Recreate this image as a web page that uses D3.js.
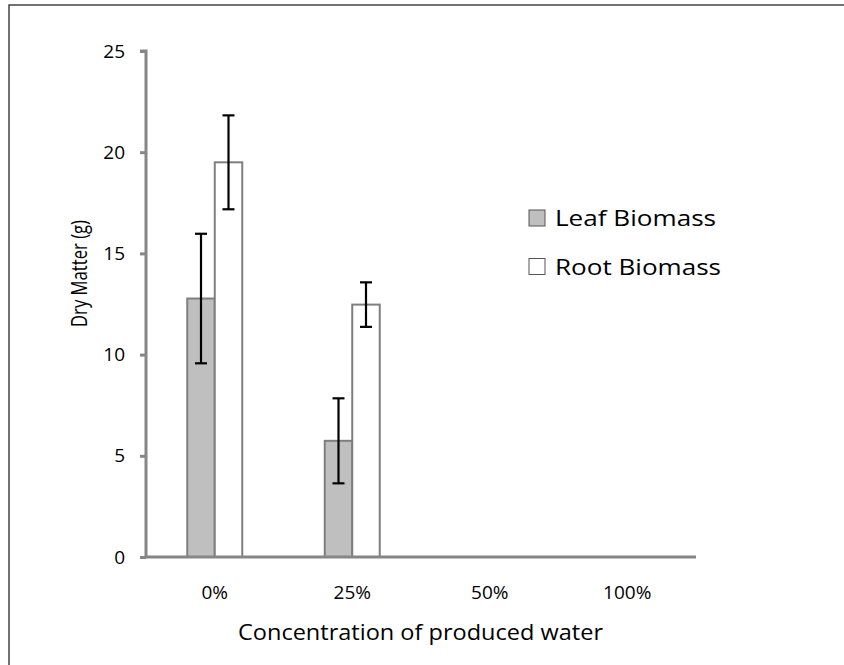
<!DOCTYPE html>
<html>
<head>
<meta charset="utf-8">
<title>Dry matter</title>
<style>
body { margin: 0; background: #fff; }
svg text { font-family: "Open Sans", sans-serif; fill: #000; }
.axis path, .axis line { stroke: #868686; stroke-width: 3; }
.axis text { font-size: 19px; }
</style>
</head>
<body>
<script src="https://cdn.jsdelivr.net/npm/d3@7"></script>
<script>
// data
var categories = ["0%", "25%", "50%", "100%"];
var seriesNames = ["Leaf Biomass", "Root Biomass"];
var leafValues = [12.77, 5.74, null, null];
var rootValues = [19.5, 12.47, null, null];
var leafErr = [3.2, 2.1, null, null];
var rootErr = [2.32, 1.1, null, null];
var yTicks = [0, 5, 10, 15, 20, 25];

var w = 844, h = 665;
var pLeft = 146, pRight = 696, pTop = 51, pBottom = 557; // plot area

var svg = d3.select("body").append("svg").attr("width", w).attr("height", h);

// outer frame
svg.append("rect").attr("x", 9).attr("y", 5).attr("width", 850).attr("height", 680)
  .attr("fill", "none").attr("stroke", "#444").attr("stroke-width", 1.5);

var x = d3.scaleBand().domain(categories).range([pLeft, pRight]);
var y = d3.scaleLinear().domain([0, 25]).range([pBottom, pTop]);
var barW = x.bandwidth() * 0.2;

var colors = ["#bfbfbf", "#ffffff"];
var series = [
  { name: seriesNames[0], values: leafValues, err: leafErr, c: colors[0], len: 161 },
  { name: seriesNames[1], values: rootValues, err: rootErr, c: colors[1], len: 166 }
];

// y axis
var yAxis = d3.axisLeft(y).tickValues(yTicks).tickSize(6).tickPadding(15);
var yg = svg.append("g").attr("class", "axis").attr("transform", "translate(" + pLeft + ",0)").call(yAxis);
yg.select(".domain").attr("d", "M-6," + y(25) + "H0V" + y(0));

// bars
series.forEach(function(s, si) {
  var pts = categories.map(function(c, i) { return { c: c, v: s.values[i], e: s.err[i] }; })
    .filter(function(d) { return d.v != null; });
  var g = svg.append("g");
  g.selectAll("rect").data(pts).enter().append("rect")
    .attr("x", function(d) { return x(d.c) + x.bandwidth() / 2 - barW + si * barW; })
    .attr("y", function(d) { return y(d.v); })
    .attr("width", barW)
    .attr("height", function(d) { return y(0) - y(d.v); })
    .attr("fill", s.c)
    .attr("stroke", "#7f7f7f")
    .attr("stroke-width", 2);
  s.pts = pts;
  s.si = si;
});

// x axis
var xAxis = d3.axisBottom(x).tickSize(0).tickPadding(29);
var xg = svg.append("g").attr("class", "axis").attr("transform", "translate(0," + pBottom + ")").call(xAxis);
xg.select(".domain").attr("d", "M" + pLeft + ",0H" + pRight);

// error bars
series.forEach(function(s) {
  var g = svg.append("g").attr("stroke", "#000").attr("stroke-width", 2.2);
  s.pts.forEach(function(d) {
    var cx = x(d.c) + x.bandwidth() / 2 - barW / 2 + s.si * barW;
    g.append("line").attr("x1", cx).attr("x2", cx).attr("y1", y(d.v + d.e)).attr("y2", y(d.v - d.e));
    [d.v + d.e, d.v - d.e].forEach(function(v) {
      g.append("line").attr("x1", cx - 6).attr("x2", cx + 6).attr("y1", y(v)).attr("y2", y(v));
    });
  });
});

// axis titles (the source picture is stretched sideways, so fit the lengths)
svg.append("text").attr("x", 238).attr("y", 640)
  .attr("font-size", "21px").attr("textLength", 365).attr("lengthAdjust", "spacingAndGlyphs")
  .text("Concentration of produced water");
svg.append("text").attr("transform", "translate(87,327) rotate(-90)")
  .attr("font-size", "21px").attr("textLength", 107).attr("lengthAdjust", "spacingAndGlyphs")
  .text("Dry Matter (g)");

// legend
var lg = svg.append("g").selectAll("g").data(series).enter().append("g")
  .attr("transform", function(d, i) { return "translate(529," + (210 + i * 48.5) + ")"; });
lg.append("rect").attr("width", 16).attr("height", 16).attr("y", 0)
  .attr("fill", function(d) { return d.c; }).attr("stroke", "#555").attr("stroke-width", 1);
lg.append("text").attr("x", 26).attr("y", 16).attr("font-size", "21.5px")
  .attr("textLength", function(d) { return d.len; }).attr("lengthAdjust", "spacingAndGlyphs")
  .text(function(d) { return d.name; });
</script>
</body>
</html>
